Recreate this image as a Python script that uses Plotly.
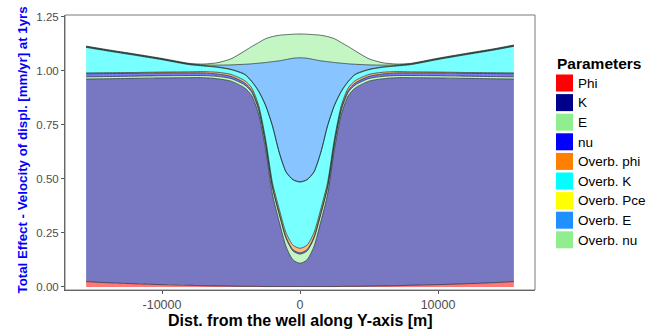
import plotly.graph_objects as go

# ---- data -------------------------------------------------------------
dist = [-15500, -14000, -12000, -10000, -8000, -7000, -6000, -5000, -4000, -3500,
        -3000, -2500, -2000, -1500, -1000, -500, 0, 500, 1000, 1500, 2000, 2500,
        3000, 3500, 4000, 5000, 6000, 7000, 8000, 10000, 12000, 14000, 15500]

phi = [0.025, 0.020, 0.015, 0.011, 0.008, 0.006, 0.005, 0.004, 0.003, 0.003, 0.003,
       0.002, 0.002, 0.002, 0.002, 0.002, 0.002, 0.002, 0.002, 0.002, 0.002, 0.002,
       0.003, 0.003, 0.003, 0.004, 0.005, 0.006, 0.008, 0.011, 0.015, 0.020, 0.025]
k_perm = [0.937, 0.943, 0.950, 0.956, 0.960, 0.962, 0.958, 0.948, 0.917, 0.882, 0.797,
          0.638, 0.428, 0.298, 0.183, 0.123, 0.108, 0.123, 0.183, 0.298, 0.428, 0.638,
          0.797, 0.882, 0.917, 0.948, 0.958, 0.962, 0.960, 0.956, 0.950, 0.943, 0.937]
e_mod = [0.010, 0.010, 0.010, 0.010, 0.010, 0.010, 0.011, 0.012, 0.014, 0.016, 0.020,
         0.025, 0.030, 0.034, 0.038, 0.041, 0.042, 0.041, 0.038, 0.034, 0.030, 0.025,
         0.020, 0.016, 0.014, 0.012, 0.011, 0.010, 0.010, 0.010, 0.010, 0.010, 0.010]
nu = [0.014, 0.014, 0.013, 0.013, 0.012, 0.012, 0.011, 0.010, 0.009, 0.008, 0.008,
      0.007, 0.007, 0.006, 0.006, 0.006, 0.006, 0.006, 0.006, 0.006, 0.007, 0.007,
      0.008, 0.008, 0.009, 0.010, 0.011, 0.012, 0.012, 0.013, 0.013, 0.014, 0.014]
ov_phi = [0.004, 0.004, 0.004, 0.004, 0.005, 0.006, 0.008, 0.009, 0.011, 0.012, 0.013,
          0.015, 0.017, 0.019, 0.020, 0.021, 0.021, 0.021, 0.020, 0.019, 0.017, 0.015,
          0.013, 0.012, 0.011, 0.009, 0.008, 0.006, 0.005, 0.004, 0.004, 0.004, 0.004]
ov_k = [0.118, 0.101, 0.080, 0.057, 0.033, 0.026, 0.023, 0.022, 0.028, 0.029, 0.064,
        0.153, 0.261, 0.261, 0.281, 0.302, 0.306, 0.302, 0.281, 0.261, 0.261, 0.153,
        0.064, 0.029, 0.028, 0.022, 0.023, 0.026, 0.033, 0.058, 0.082, 0.104, 0.123]
ov_pce = [0.002] * 33
ov_e = [0.002, 0.002, 0.002, 0.002, 0.002, 0.003, 0.008, 0.020, 0.046, 0.080, 0.128,
        0.196, 0.295, 0.424, 0.520, 0.561, 0.573, 0.561, 0.520, 0.424, 0.295, 0.196,
        0.128, 0.080, 0.046, 0.020, 0.008, 0.003, 0.002, 0.002, 0.002, 0.002, 0.002]
ov_nu = [0.002, 0.002, 0.002, 0.002, 0.002, 0.004, 0.011, 0.028, 0.062, 0.080, 0.095,
         0.110, 0.116, 0.118, 0.115, 0.111, 0.110, 0.111, 0.115, 0.118, 0.116, 0.110,
         0.095, 0.080, 0.062, 0.028, 0.011, 0.004, 0.002, 0.002, 0.002, 0.002, 0.002]

param_names = ["Phi", "K", "E", "nu", "Overb. phi", "Overb. K", "Overb. Pce",
               "Overb. E", "Overb. nu"]
param_values = [phi, k_perm, e_mod, nu, ov_phi, ov_k, ov_pce, ov_e, ov_nu]
param_colors = ["#FF0000", "#00008B", "#90EE90", "#0000FF", "#FF7F00", "#00FFFF",
                "#FFFF00", "#1E90FF", "#90EE90"]

x_ticks = [-10000, 0, 10000]
x_tick_labels = ["-10000", "0", "10000"]
y_ticks = [0, 0.25, 0.5, 0.75, 1.0, 1.25]
y_tick_labels = ["0.00", "0.25", "0.50", "0.75", "1.00", "1.25"]

ALPHA = 0.53


def rgba(hex_color, a):
    h = hex_color.lstrip("#")
    r, g, b = int(h[0:2], 16), int(h[2:4], 16), int(h[4:6], 16)
    return f"rgba({r},{g},{b},{a})"


FONT = "Liberation Sans, Arial, Helvetica, sans-serif"

fig = go.Figure()
for name, vals, col in zip(param_names, param_values, param_colors):
    fig.add_trace(go.Scatter(
        x=dist, y=vals, name=name, mode="lines", stackgroup="one",
        line=dict(color="rgba(15,35,35,0.8)", width=0.8, shape="spline", smoothing=0.7),
        fillcolor=rgba(col, ALPHA), showlegend=False, hoverinfo="skip",
    ))

# panel geometry (pixels)
L, R, T, B = 65, 535, 15, 290
W, H = 662, 329
pw, ph = R - L, B - T


def px_x(px):
    return (px - L) / pw


def px_y(py):
    return (B - py) / ph


shapes = []
annotations = []

# legend (manual)
annotations.append(dict(text="<b>Parameters</b>", x=px_x(555), y=px_y(63.5),
                        xref="paper", yref="paper", xanchor="left", yanchor="middle",
                        showarrow=False, font=dict(family=FONT, size=15.5, color="black")))
key_top0 = 74.5
pitch = 19.6
for i, (name, col) in enumerate(zip(param_names, param_colors)):
    top = key_top0 + i * pitch
    shapes.append(dict(type="rect", xref="paper", yref="paper",
                       x0=px_x(556), x1=px_x(573), y0=px_y(top + 17), y1=px_y(top),
                       fillcolor=col, line=dict(width=0), layer="above"))
    annotations.append(dict(text=name, x=px_x(575.5), y=px_y(top + 8.8),
                            xref="paper", yref="paper", xanchor="left", yanchor="middle",
                            showarrow=False,
                            font=dict(family=FONT, size=13.5, color="black")))

# y-axis title (blue, bold, rotated)
annotations.append(dict(text="<b>Total Effect - Velocity of displ. [mm/yr] at 1yrs</b>",
                        x=px_x(22), y=px_y(150.5), xref="paper", yref="paper",
                        xanchor="center", yanchor="middle", textangle=-90,
                        showarrow=False,
                        font=dict(family=FONT, size=13.3, color="#0000FF")))
# x-axis title
annotations.append(dict(text="<b>Dist. from the well along Y-axis [m]</b>",
                        x=px_x(300), y=px_y(320), xref="paper", yref="paper",
                        xanchor="center", yanchor="middle", showarrow=False,
                        font=dict(family=FONT, size=16, color="black")))

# panel border
shapes.append(dict(type="rect", xref="paper", yref="paper", x0=0, x1=1, y0=0, y1=1,
                   line=dict(color="#7a7a7a", width=1), fillcolor="rgba(0,0,0,0)",
                   layer="above"))

fig.update_layout(
    width=W, height=H,
    margin=dict(l=L, r=W - R, t=T, b=H - B, pad=0),
    paper_bgcolor="white", plot_bgcolor="white",
    showlegend=False,
    shapes=shapes, annotations=annotations,
    xaxis=dict(range=[-17029, 17029], tickvals=x_ticks, ticktext=x_tick_labels,
               showgrid=False, zeroline=False, ticks="outside", ticklen=3,
               tickcolor="#555555", showline=True, linecolor="#555555", linewidth=1,
               tickfont=dict(family=FONT, size=12.5, color="#4d4d4d")),
    yaxis=dict(range=[-0.0139, 1.2578], tickvals=y_ticks, ticktext=y_tick_labels,
               showgrid=False, zeroline=False, ticks="outside", ticklen=3,
               tickcolor="#555555", showline=True, linecolor="#555555", linewidth=1,
               tickfont=dict(family=FONT, size=11.5, color="#4d4d4d")),
)

fig.write_html("out.html")
